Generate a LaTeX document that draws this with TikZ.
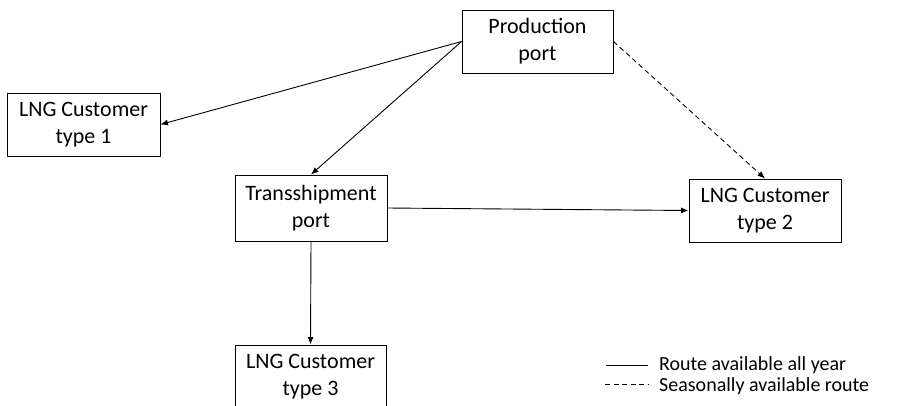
\documentclass[tikz,border=0pt]{standalone}
\usepackage{fontspec}
\setmainfont{Carlito}
\usetikzlibrary{arrows.meta}
\begin{document}
\begin{tikzpicture}[x=1pt,y=-1pt,
  box/.style={draw, line width=0.9pt, rectangle, minimum width=152pt, minimum height=63pt,
    align=center, inner sep=0pt, font=\fontsize{22}{27}\selectfont},
  route/.style={line width=0.9pt, -{Latex[length=7.5pt,width=6pt]}},
  seasonal/.style={route, dash pattern=on 5pt off 3.5pt},
  legtext/.style={anchor=west, inner sep=0pt, font=\fontsize{20}{24}\selectfont}]
\clip (0,0) rectangle (899,405);
\node[box, minimum width=151pt] (prod) at (537.5,41.5) {Production\\port};
\node[box, minimum width=153pt] (t1) at (83.5,124.5) {LNG Customer\\type 1};
\node[box, minimum height=66pt] (ts) at (311,208) {Transshipment\\port};
\node[box] (t2) at (765,210.5) {LNG Customer\\type 2};
\node[box, minimum width=151pt] (t3) at (310.5,376.5) {LNG Customer\\type 3};
\draw[route] (prod.west) -- (t1.east);
\draw[route] (prod.west) -- (ts.north);
\draw[seasonal] (prod.east) -- (t2.north);
\draw[route] (ts.east) -- (t2.west);
\draw[route] (ts.south) -- (t3.north);
\coordinate (la1) at (606,365);
\coordinate (lb1) at (648,365);
\coordinate (la2) at (605,384);
\coordinate (lb2) at (648,384);
\draw[line width=0.9pt] (la1) -- (lb1);
\draw[line width=0.9pt, dash pattern=on 5pt off 3.5pt] (la2) -- (lb2);
\node[legtext] (l1) at (659,365) {Route available all year};
\node[legtext] (l2) at (659,386) {Seasonally available route};
\end{tikzpicture}
\end{document}
